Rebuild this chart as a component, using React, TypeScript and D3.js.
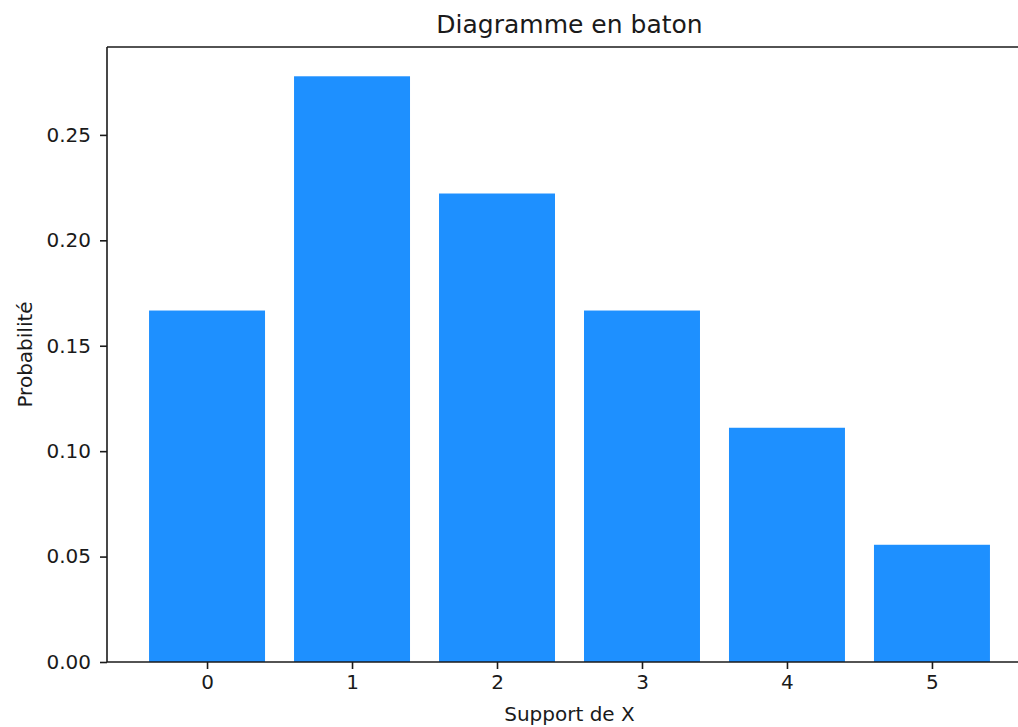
import React, { useEffect, useRef } from 'react';
import * as d3 from 'd3';

// support de X et probabilités
const support: number[] = [0, 1, 2, 3, 4, 5];
const probabilities: number[] = [0.1667, 0.2778, 0.2222, 0.1667, 0.1111, 0.0556];
const yTicks: number[] = [0, 0.05, 0.1, 0.15, 0.2, 0.25];
const yTickLabels: string[] = ['0.00', '0.05', '0.10', '0.15', '0.20', '0.25'];

const title = 'Diagramme en baton';
const xLabel = 'Support de X';
const yLabel = 'Probabilité';

const W = 1018;
const H = 727;
const FONT = '"DejaVu Sans", sans-serif';
const INK = '#1a1a1a';

const BarChart: React.FC = () => {
  const svgRef = useRef<SVGSVGElement>(null);

  useEffect(() => {
    if (!svgRef.current) return;
    const svg = d3.select(svgRef.current);
    svg.selectAll('*').remove();

    const left = 107;
    const right = 1032; // la figure est rognée à droite
    const top = 47;
    const bottom = 662;
    const barWidth = 0.8;

    // marges matplotlib de 5 %
    const x0 = d3.min(support)! - barWidth / 2;
    const x1 = d3.max(support)! + barWidth / 2;
    const pad = (x1 - x0) * 0.05;
    const x = d3.scaleLinear().domain([x0 - pad, x1 + pad]).range([left, right]);

    const yMax = d3.max(probabilities)! * 1.05;
    const y = d3.scaleLinear().domain([0, yMax]).range([bottom, top]);

    // barres
    svg
      .append('g')
      .selectAll('rect')
      .data(support)
      .join('rect')
      .attr('x', d => x(d - barWidth / 2))
      .attr('width', d => x(d + barWidth / 2) - x(d - barWidth / 2))
      .attr('y', (d, i) => y(probabilities[i]))
      .attr('height', (d, i) => bottom - y(probabilities[i]))
      .attr('fill', '#1e90ff');

    // axe x
    const xAxis = svg
      .append('g')
      .attr('transform', `translate(0,${bottom})`)
      .call(
        d3
          .axisBottom(x)
          .tickValues(support)
          .tickFormat(d => String(d))
          .tickSize(7)
          .tickPadding(6)
          .tickSizeOuter(0)
      );
    xAxis.select('.domain').remove();
    xAxis.selectAll('line').attr('stroke', INK).attr('stroke-width', 1.6);
    xAxis
      .selectAll('text')
      .attr('fill', INK)
      .style('font-family', FONT)
      .style('font-size', '20px');

    // axe y
    const yAxis = svg
      .append('g')
      .attr('transform', `translate(${left},0)`)
      .call(
        d3
          .axisLeft(y)
          .tickValues(yTicks)
          .tickFormat((d, i) => yTickLabels[i])
          .tickSize(7)
          .tickPadding(9)
          .tickSizeOuter(0)
      );
    yAxis.select('.domain').remove();
    yAxis.selectAll('line').attr('stroke', INK).attr('stroke-width', 1.6);
    yAxis
      .selectAll('text')
      .attr('fill', INK)
      .style('font-family', FONT)
      .style('font-size', '20px');

    // cadre
    const spine = svg.append('g').attr('stroke', INK).attr('stroke-width', 1.6).attr('fill', 'none');
    spine.append('line').attr('x1', left).attr('x2', left).attr('y1', top).attr('y2', bottom);
    spine.append('line').attr('x1', left).attr('x2', right).attr('y1', bottom).attr('y2', bottom);
    spine.append('line').attr('x1', left).attr('x2', right).attr('y1', top).attr('y2', top);
    spine.append('line').attr('x1', right).attr('x2', right).attr('y1', top).attr('y2', bottom);

    // titres
    svg
      .append('text')
      .attr('x', (left + right) / 2)
      .attr('y', 33)
      .attr('text-anchor', 'middle')
      .attr('fill', INK)
      .style('font-family', FONT)
      .style('font-size', '25px')
      .text(title);

    svg
      .append('text')
      .attr('x', (left + right) / 2)
      .attr('y', 721)
      .attr('text-anchor', 'middle')
      .attr('fill', INK)
      .style('font-family', FONT)
      .style('font-size', '20px')
      .text(xLabel);

    svg
      .append('text')
      .attr('transform', `translate(31.5,${(top + bottom) / 2}) rotate(-90)`)
      .attr('text-anchor', 'middle')
      .attr('fill', INK)
      .style('font-family', FONT)
      .style('font-size', '20px')
      .text(yLabel);
  }, []);

  return (
    <svg
      ref={svgRef}
      width={W}
      height={H}
      style={{ position: 'absolute', left: 0, top: 0, background: '#fff' }}
    ></svg>
  );
};

const App = () => {
  return <BarChart />;
};

export default App;
